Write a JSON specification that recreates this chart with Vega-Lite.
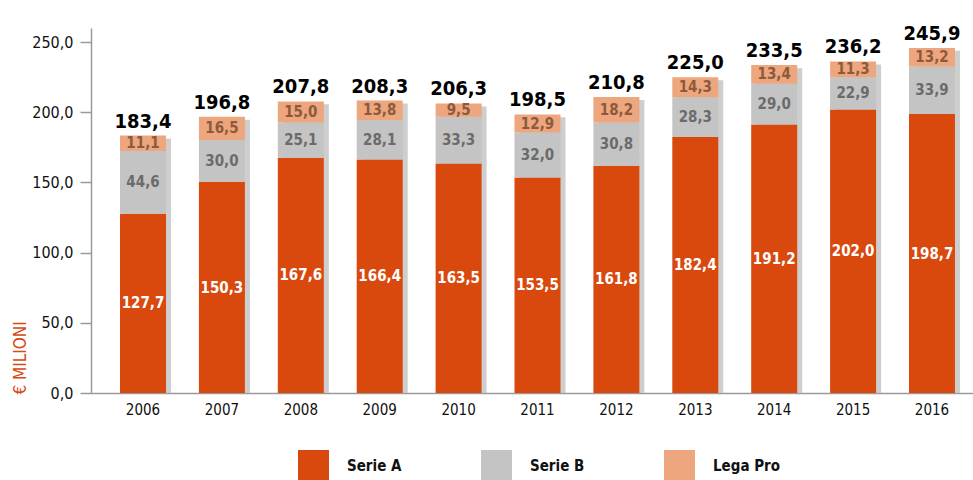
{
  "$schema": "https://vega.github.io/schema/vega-lite/v6.json",
  "width": 882,
  "height": 365,
  "autosize": {"type": "none"},
  "padding": {"left": 91, "top": 28, "right": 0, "bottom": 87},
  "background": "white",
  "config": {
    "locale": {
      "number": {"decimal": ",", "thousands": ".", "grouping": [3], "currency": ["€", ""]}
    },
    "view": {"stroke": null},
    "font": "DejaVu Sans Condensed, sans-serif"
  },
  "datasets": {
    "ricavi": [
      {"anno": "2006", "lega": "Serie A", "livello": 1, "valore": 127.7},
      {"anno": "2006", "lega": "Serie B", "livello": 2, "valore": 44.6},
      {"anno": "2006", "lega": "Lega Pro", "livello": 3, "valore": 11.1},
      {"anno": "2007", "lega": "Serie A", "livello": 1, "valore": 150.3},
      {"anno": "2007", "lega": "Serie B", "livello": 2, "valore": 30.0},
      {"anno": "2007", "lega": "Lega Pro", "livello": 3, "valore": 16.5},
      {"anno": "2008", "lega": "Serie A", "livello": 1, "valore": 167.6},
      {"anno": "2008", "lega": "Serie B", "livello": 2, "valore": 25.1},
      {"anno": "2008", "lega": "Lega Pro", "livello": 3, "valore": 15.0},
      {"anno": "2009", "lega": "Serie A", "livello": 1, "valore": 166.4},
      {"anno": "2009", "lega": "Serie B", "livello": 2, "valore": 28.1},
      {"anno": "2009", "lega": "Lega Pro", "livello": 3, "valore": 13.8},
      {"anno": "2010", "lega": "Serie A", "livello": 1, "valore": 163.5},
      {"anno": "2010", "lega": "Serie B", "livello": 2, "valore": 33.3},
      {"anno": "2010", "lega": "Lega Pro", "livello": 3, "valore": 9.5},
      {"anno": "2011", "lega": "Serie A", "livello": 1, "valore": 153.5},
      {"anno": "2011", "lega": "Serie B", "livello": 2, "valore": 32.0},
      {"anno": "2011", "lega": "Lega Pro", "livello": 3, "valore": 12.9},
      {"anno": "2012", "lega": "Serie A", "livello": 1, "valore": 161.8},
      {"anno": "2012", "lega": "Serie B", "livello": 2, "valore": 30.8},
      {"anno": "2012", "lega": "Lega Pro", "livello": 3, "valore": 18.2},
      {"anno": "2013", "lega": "Serie A", "livello": 1, "valore": 182.4},
      {"anno": "2013", "lega": "Serie B", "livello": 2, "valore": 28.3},
      {"anno": "2013", "lega": "Lega Pro", "livello": 3, "valore": 14.3},
      {"anno": "2014", "lega": "Serie A", "livello": 1, "valore": 191.2},
      {"anno": "2014", "lega": "Serie B", "livello": 2, "valore": 29.0},
      {"anno": "2014", "lega": "Lega Pro", "livello": 3, "valore": 13.4},
      {"anno": "2015", "lega": "Serie A", "livello": 1, "valore": 202.0},
      {"anno": "2015", "lega": "Serie B", "livello": 2, "valore": 22.9},
      {"anno": "2015", "lega": "Lega Pro", "livello": 3, "valore": 11.3},
      {"anno": "2016", "lega": "Serie A", "livello": 1, "valore": 198.7},
      {"anno": "2016", "lega": "Serie B", "livello": 2, "valore": 33.9},
      {"anno": "2016", "lega": "Lega Pro", "livello": 3, "valore": 13.2}
    ],
    "totali": [
      {"anno": "2006", "totale": 183.4},
      {"anno": "2007", "totale": 196.8},
      {"anno": "2008", "totale": 207.8},
      {"anno": "2009", "totale": 208.3},
      {"anno": "2010", "totale": 206.3},
      {"anno": "2011", "totale": 198.5},
      {"anno": "2012", "totale": 210.8},
      {"anno": "2013", "totale": 225.0},
      {"anno": "2014", "totale": 233.5},
      {"anno": "2015", "totale": 236.2},
      {"anno": "2016", "totale": 245.9}
    ]
  },
  "encoding": {
    "x": {
      "field": "anno",
      "type": "ordinal",
      "scale": {"paddingInner": 0.417, "paddingOuter": 0.298, "align": 0.617},
      "axis": {
        "title": null,
        "labelAngle": 0,
        "labelFontSize": 15,
        "labelColor": "#111111",
        "labelPadding": 9,
        "ticks": false,
        "domainColor": "#9a9a9a",
        "domainWidth": 1.5
      }
    }
  },
  "layer": [
    {
      "data": {"name": "totali"},
      "mark": {"type": "bar", "color": "#c2c2c2", "opacity": 0.8, "xOffset": 5, "yOffset": 3, "clip": true},
      "encoding": {
        "y": {"field": "totale", "type": "quantitative", "scale": {"domain": [0, 250]}}
      }
    },
    {
      "data": {"name": "ricavi"},
      "mark": {"type": "bar"},
      "encoding": {
        "y": {
          "field": "valore",
          "type": "quantitative",
          "stack": "zero",
          "scale": {"domain": [0, 250]},
          "axis": {
            "title": "€ MILIONI",
            "titleColor": "#d9480f",
            "titleFontWeight": "normal",
            "titleFontSize": 17,
            "titleAngle": -90,
            "titleX": -71,
            "titleY": 366,
            "titleAlign": "left",
            "titleBaseline": "middle",
            "values": [0, 50, 100, 150, 200, 250],
            "format": ".1f",
            "labelFontSize": 16,
            "labelColor": "#111111",
            "labelPadding": 7,
            "tickSize": 11,
            "tickColor": "#9a9a9a",
            "tickWidth": 1.5,
            "domainColor": "#9a9a9a",
            "domainWidth": 1.5,
            "grid": false
          }
        },
        "color": {
          "field": "lega",
          "type": "nominal",
          "scale": {"domain": ["Serie A", "Serie B", "Lega Pro"], "range": ["#d9490e", "#c4c4c4", "#eda67d"]},
          "legend": {
            "title": null,
            "orient": "none",
            "legendX": 207,
            "legendY": 422,
            "direction": "horizontal",
            "columns": 3,
            "symbolType": "square",
            "symbolSize": 961,
            "symbolStrokeWidth": 0,
            "labelFontSize": 15,
            "labelFontWeight": "bold",
            "labelColor": "#111111",
            "labelOffset": 18,
            "columnPadding": 79
          }
        },
        "order": {"field": "livello", "type": "quantitative"}
      }
    },
    {
      "data": {"name": "ricavi"},
      "mark": {"type": "text", "fontSize": 15, "fontWeight": "bold", "baseline": "middle"},
      "encoding": {
        "y": {"field": "valore", "type": "quantitative", "stack": "zero", "bandPosition": 0.5},
        "detail": {"field": "lega", "type": "nominal"},
        "order": {"field": "livello", "type": "quantitative"},
        "text": {"field": "valore", "type": "quantitative", "format": ".1f"},
        "color": {
          "condition": [
            {"test": "datum.lega === 'Serie A'", "value": "#ffffff"},
            {"test": "datum.lega === 'Serie B'", "value": "#6b6b6b"}
          ],
          "value": "#8c5a3c"
        }
      }
    },
    {
      "data": {"name": "totali"},
      "mark": {"type": "text", "fontSize": 20, "fontWeight": "bold", "baseline": "bottom", "dy": -4, "color": "#000000"},
      "encoding": {
        "y": {"field": "totale", "type": "quantitative"},
        "text": {"field": "totale", "type": "quantitative", "format": ".1f"}
      }
    }
  ]
}
